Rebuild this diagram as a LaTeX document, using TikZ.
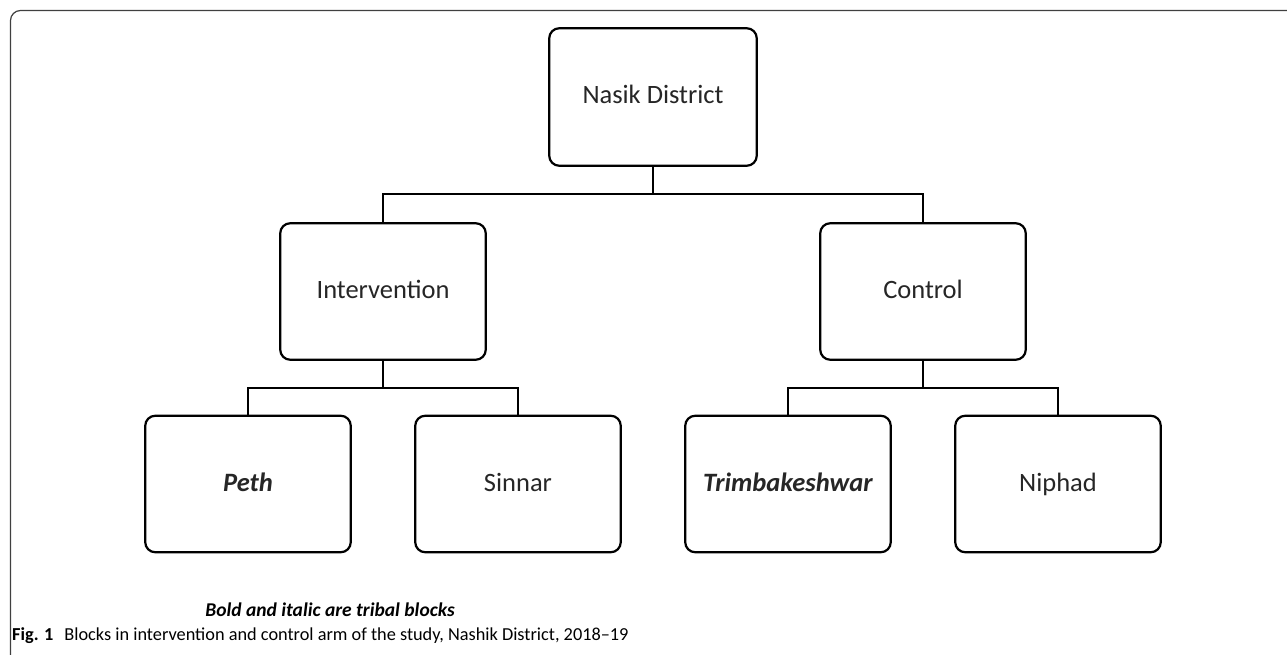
\documentclass[tikz,border=0pt]{standalone}
\usepackage{fontspec}
\setmainfont{Carlito}
\usetikzlibrary{trees}
\tikzset{
  block/.style={draw,line width=2.2pt,rounded corners=10pt,fill=white,
    minimum width=205.5pt,minimum height=136.5pt,inner sep=0pt,
    text height=18pt,text depth=4pt,
    text=black!85,font=\fontsize{26.5}{30}\selectfont},
  forkline/.style={draw,line width=2.2pt},
  forkpath/.style={edge from parent path={(\tikzparentnode.south) -- +(0,-27.5pt) -| (\tikzchildnode.north)}}
}
\begin{document}
\begin{tikzpicture}[x=1pt,y=1pt,every child node/.style={block},
  edge from parent/.style={forkline},forkpath]
\tikzstyle{level 1}=[level distance=194.5pt,sibling distance=540pt]
\tikzstyle{level 2}=[level distance=192.5pt,sibling distance=270pt]
\useasboundingbox (0,0) rectangle (1287,-655);
% outer frame of the figure
\draw[black!75,line width=1.2pt,rounded corners=10pt] (10.5,-665) |- (1297,-10.5);
\node[block,minimum width=207.5pt,minimum height=137.5pt] (nasik) at (653,-97) {Nasik District}
  child { node (interv) {Intervention}
    child { node (peth) {\textbf{\textit{Peth}}} }
    child { node (sinnar) {Sinnar} }
  }
  child { node (ctrl) {Control}
    child { node (trimb) {\textbf{\textit{Trimbakeshwar}}} }
    child { node (niphad) {Niphad} }
  };

\node[anchor=base,inner sep=0pt,font=\fontsize{19.5}{22}\selectfont\bfseries\itshape] (note) at (330,-616) {Bold and italic are tribal blocks};
\node[anchor=base west,inner sep=0pt,font=\fontsize{18.3}{21}\selectfont] (caption) at (12,-640) {\textbf{Fig. 1}\hspace{0.6em}Blocks in intervention and control arm of the study, Nashik District, 2018--19};
\end{tikzpicture}
\end{document}
